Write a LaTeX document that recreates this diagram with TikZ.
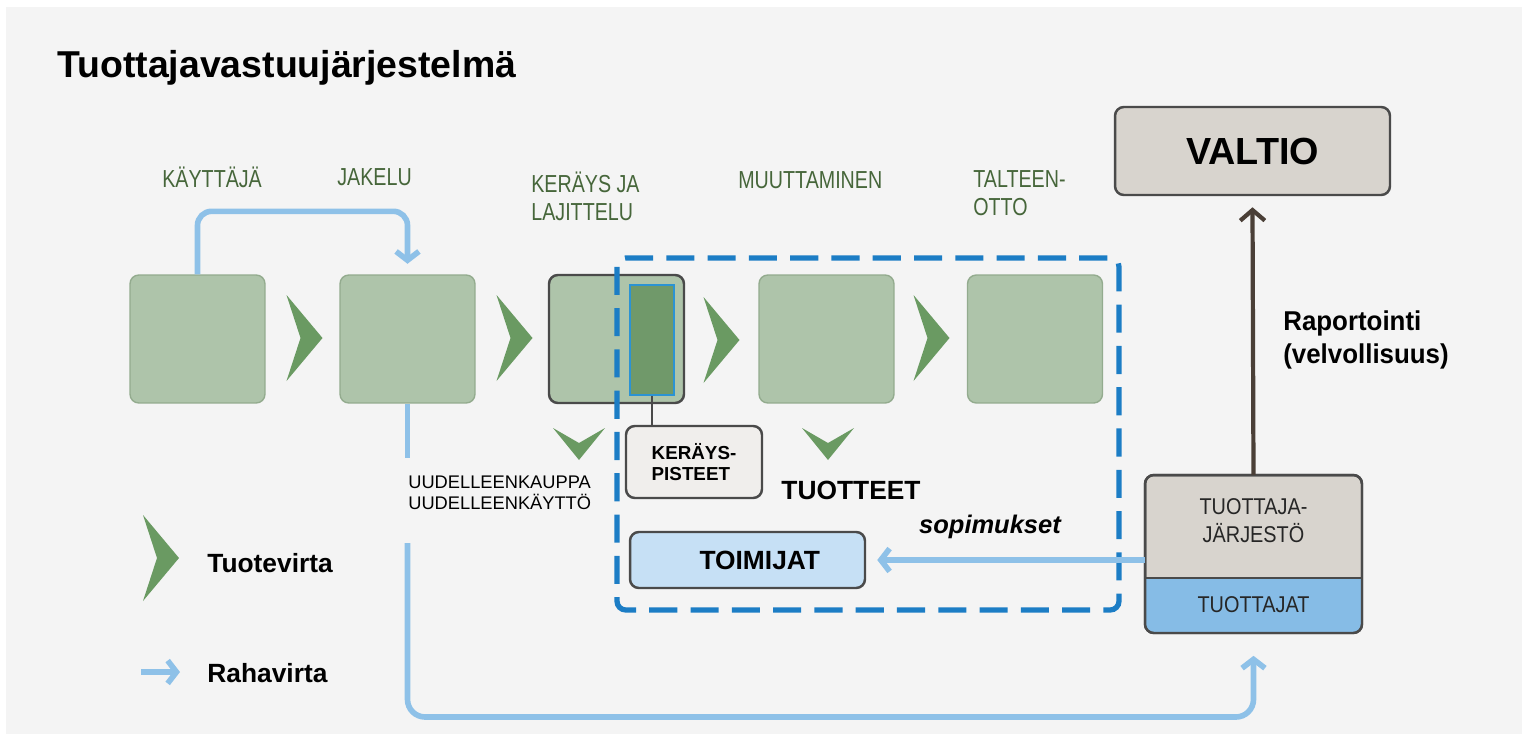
\documentclass[tikz,border=0pt]{standalone}
\usepackage{fontspec}
\setmainfont{Liberation Sans}
\newfontfamily\narrowfont[FakeStretch=0.8]{Liberation Sans}
\newfontfamily\semifont[FakeStretch=0.87]{Liberation Sans}
\newfontfamily\reportfont[FakeStretch=0.95]{Liberation Sans}
\usepackage{tikz}
\usetikzlibrary{arrows.meta}
\usetikzlibrary{positioning}

\definecolor{bggray}{HTML}{F4F4F4}
\definecolor{stagefill}{HTML}{AEC4AA}
\definecolor{stageedge}{HTML}{93AB8E}
\definecolor{chevgreen}{HTML}{6A9A62}
\definecolor{labelgreen}{HTML}{46663A}
\definecolor{slotfill}{HTML}{70996A}
\definecolor{slotedge}{HTML}{2C93D3}
\definecolor{moneyblue}{HTML}{8EC1E8}
\definecolor{dashblue}{HTML}{1C7DC5}
\definecolor{statefill}{HTML}{D8D4CE}
\definecolor{actorfill}{HTML}{C6E0F5}
\definecolor{makerblue}{HTML}{86BCE6}
\definecolor{kpfill}{HTML}{F0EEEC}
\definecolor{reportbrown}{HTML}{4A3F37}
\definecolor{edgegray}{HTML}{4A4A4A}

\tikzset{
  stage/.style={draw=stageedge, fill=stagefill, line width=0.8pt, rounded corners=5pt,
    minimum width=2.7cm, minimum height=2.56cm, inner sep=0},
  darkbox/.style={draw=edgegray, line width=1.4pt, rounded corners=5pt, outer sep=0, inner sep=0},
  stagelabel/.style={anchor=west, inner sep=0, text=labelgreen, align=left,
    font=\narrowfont\fontsize{14}{16}\selectfont},
  money/.style={draw=moneyblue, line width=3.2pt, -{Straight Barb[length=5pt,width=13pt]}},
  report/.style={draw=reportbrown, line width=2.4pt, -{Straight Barb[length=6pt,width=14pt]}},
  chevright/.pic={\fill[chevgreen] (-18,-43) -- (18,0) -- (-18,43) -- (-4,0) -- cycle;},
  chevdown/.pic={\fill[chevgreen] (-26,-16) -- (0,-1) -- (26,-16) -- (0,16) -- cycle;},
}

\begin{document}
\begin{tikzpicture}[x=0.02cm, y=-0.02cm, every node/.style={align=center}]
    \useasboundingbox (0,0) rectangle (1522,734);
    \fill[white] (0,0) rectangle (1522,734);
    \fill[bggray] (6,7) rectangle (1522,734);

    % Title
    \node[anchor=west, inner sep=0, font=\bfseries\fontsize{21.3}{25}\selectfont] (title) at (57,68) {Tuottajavastuujärjestelmä};

    % Stage labels
    \node[stagelabel] (userlbl) at (162,177) {KÄYTTÄJÄ};
    \node[stagelabel] (distlbl) at (337,177) {JAKELU};
    \node[stagelabel] (sortlbl) at (531,196) {KERÄYS JA\\LAJITTELU};
    \node[stagelabel] (convlbl) at (738,180) {MUUTTAMINEN};
    \node[stagelabel] (recovlbl) at (973,193) {TALTEEN-\\OTTO};

    % Stages
    \node[stage] (user) at (197.5,339) {};
    \node[stage] (dist) at (407.5,339) {};
    \node[stage, draw=edgegray, line width=1.4pt] (sort) at (616.5,339) {};
    \node[stage] (conv) at (826.5,339) {};
    \node[stage] (recov) at (1035,339) {};
    \node[draw=slotedge, fill=slotfill, line width=1.5pt, minimum width=0.88cm, minimum height=2.2cm, inner sep=0] (slot) at (652,340) {};

    % Product flow
    \pic at (304.5,338) {chevright};
    \pic at (514.5,338) {chevright};
    \pic at (721.5,340) {chevright};
    \pic at (931.5,338) {chevright};
    \pic at (579,444) {chevdown};
    \pic at (828,444) {chevdown};

    % Operators' area
    \draw[dashblue, line width=3pt, dash pattern=on 16pt off 7.5pt, rounded corners=5pt] (617,258) rectangle (1119,610);

    \node[darkbox, fill=kpfill, minimum width=2.72cm, minimum height=1.44cm, align=left,
      font=\bfseries\fontsize{10.7}{12}\selectfont] (pts) at (694,462) {KERÄYS-\\PISTEET};
    \draw[edgegray, line width=1pt] (slot.south) -- (slot.south |- pts.north);

    \node[anchor=west, inner sep=0, align=left, font=\fontsize{10.4}{12}\selectfont] (reuse) at (408,493) {UUDELLEENKAUPPA\\UUDELLEENKÄYTTÖ};
    \node[font=\bfseries\fontsize{15}{18}\selectfont] (goods) at (851,490) {TUOTTEET};
    \node[darkbox, fill=actorfill, minimum width=4.7cm, minimum height=1.12cm, text width=4.7cm,
      font=\bfseries\fontsize{15}{18}\selectfont] (operators) at (747.5,560) {\hspace*{14pt}TOIMIJAT};
    \node[font=\bfseries\itshape\fontsize{14.5}{17}\selectfont] (deals) at (990,527) {sopimukset};

    % Producers and state
    \node[darkbox, fill=statefill, minimum width=4.34cm, minimum height=3.16cm] (org) at (1253.5,554) {};
    \fill[makerblue, rounded corners=5pt] (org.west |- 0,578) -- (org.south west) -- (org.south east) -- (org.east |- 0,578);
    \draw[edgegray, line width=1.4pt] (org.west |- 0,578) -- (org.east |- 0,578);
    \draw[edgegray, line width=1.4pt, rounded corners=5pt] (org.south west) rectangle (org.north east);
    \node[text=black!85, font=\semifont\fontsize{13}{16}\selectfont] (orgname) at (1253.5,521) {TUOTTAJA-\\JÄRJESTÖ};
    \node[text=black!85, font=\semifont\fontsize{13}{16}\selectfont] (makers) at (1253.5,605) {TUOTTAJAT};

    \node[darkbox, fill=statefill, minimum width=5.5cm, minimum height=1.76cm,
      font=\bfseries\fontsize{21.5}{24}\selectfont] (state) at (1252.5,151) {VALTIO};
    \node[anchor=west, inner sep=0, align=left, font=\reportfont\bfseries\fontsize{15.5}{19}\selectfont] (duty) at (1283,340) {Raportointi\\(velvollisuus)};

    % Money flow
    \draw[money, rounded corners=8pt] (user.north) -- ++(0,-63) -| ([yshift=6pt]dist.north);
    \draw[money, -] (dist.south) -- (dist.south |- 0,458);
    \draw[money, rounded corners=10pt] (dist.south |- 0,543) -- (dist.south |- 0,717) -- (org.south |- 0,717) -- ([yshift=-13pt]org.south);
    \draw[money] (org.west |- operators.east) -- ([xshift=7pt]operators.east);
    \draw[report] (org.north) -- ([yshift=-7pt]state.south);

    % Legend
    \pic at (161,558) {chevright};
    \node[anchor=west, inner sep=0, font=\bfseries\fontsize{15}{17}\selectfont] (prodkey) at (207,563) {Tuotevirta};
    \coordinate (keyfrom) at (141,672);
    \coordinate (keyto) at (180,672);
    \draw[money] (keyfrom) -- (keyto);
    \node[anchor=west, inner sep=0, font=\bfseries\fontsize{15}{17}\selectfont] (cashkey) at (207,673) {Rahavirta};
\end{tikzpicture}
\end{document}
